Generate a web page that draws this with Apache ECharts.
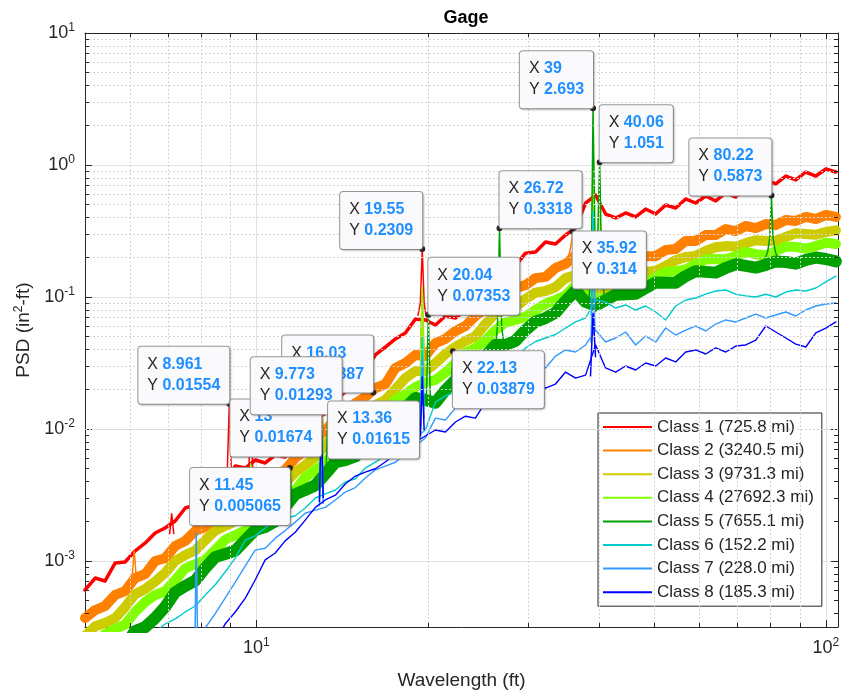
<!DOCTYPE html>
<html><head><meta charset="utf-8">
<script src="https://cdn.jsdelivr.net/npm/echarts@6/dist/echarts.min.js"></script>
<style>html,body{margin:0;padding:0;background:#fff}#c{width:843px;height:694px}</style>
</head><body><div id="c"></div>
<script>
// ---------- DATA ----------
const wavelengths = [5.00,5.21,5.42,5.65,5.88,6.12,6.38,6.64,6.91,7.20,
 7.50,7.81,8.13,8.46,8.81,9.18,9.56,9.95,10.36,10.79,
 11.23,11.70,12.18,12.69,13.21,13.76,14.32,14.92,15.53,16.17,
 16.84,17.54,18.26,19.02,19.80,20.62,21.47,22.36,23.28,24.24,
 25.24,26.29,27.37,28.50,29.68,30.91,32.18,33.51,34.90,36.34,
 37.84,39.40,41.03,42.73,44.49,46.33,48.24,50.24,52.31,54.47,
 56.72,59.06,61.50,64.05,66.69,69.45,72.31,75.30,78.41,81.65,
 85.02,88.54,92.19,96.00,99.97,104.1];

const class1 = [6.03e-4,7.43e-4,7.05e-4,9.66e-4,9.83e-4,1.19e-3,1.37e-3,1.63e-3,1.78e-3,2.01e-3,
 2.52e-3,2.66e-3,3.16e-3,3.22e-3,4.04e-3,5.24e-3,5.06e-3,5.82e-3,5.53e-3,6.35e-3,
 6.14e-3,7.83e-3,9.17e-3,1.17e-2,1.32e-2,1.66e-2,1.91e-2,2.48e-2,2.80e-2,3.64e-2,
 4.18e-2,4.81e-2,5.34e-2,6.81e-2,6.70e-2,6.14e-2,7.18e-2,6.93e-2,7.97e-2,8.55e-2,
 0.102,0.119,0.160,0.172,0.215,0.219,0.261,0.252,0.295,0.333,
 0.515,0.592,0.425,0.397,0.433,0.404,0.464,0.425,0.498,0.472,
 0.553,0.515,0.582,0.534,0.614,0.572,0.681,0.670,0.770,0.718,
 0.825,0.770,0.885,0.825,0.933,0.885];
const class2 = [3.70e-4,4.25e-4,4.56e-4,5.53e-4,5.92e-4,7.43e-4,7.97e-4,1.0e-3,1.05e-3,1.30e-3,
 1.42e-3,1.69e-3,1.81e-3,2.15e-3,2.31e-3,2.75e-3,2.95e-3,3.45e-3,3.70e-3,4.48e-3,
 4.89e-3,6.03e-3,6.81e-3,8.55e-3,9.66e-3,1.21e-2,1.32e-2,1.57e-2,1.75e-2,2.04e-2,
 2.19e-2,2.90e-2,3.16e-2,3.64e-2,3.57e-2,4.48e-2,4.81e-2,5.53e-2,6.03e-2,7.18e-2,
 8.11e-2,9.83e-2,0.102,0.117,0.123,0.139,0.142,0.166,0.178,0.208,
 0.152,0.137,0.149,0.155,0.178,0.181,0.204,0.204,0.227,0.231,
 0.266,0.266,0.295,0.295,0.327,0.316,0.345,0.333,0.357,0.351,
 0.383,0.377,0.404,0.390,0.418,0.404];
const class3 = [2.70e-4,3.2e-4,3.39e-4,3.7e-4,4.48e-4,5.6e-4,6.14e-4,7.0e-4,8.11e-4,1.0e-3,
 1.11e-3,1.2e-3,1.44e-3,1.7e-3,1.84e-3,2.0e-3,2.35e-3,2.7e-3,2.95e-3,3.3e-3,
 3.90e-3,4.7e-3,5.34e-3,6.1e-3,7.56e-3,9.2e-3,1.02e-2,1.1e-2,1.32e-2,1.52e-2,
 1.66e-2,2.0e-2,2.43e-2,2.75e-2,2.75e-2,3.15e-2,3.70e-2,4.2e-2,4.64e-2,5.05e-2,
 6.24e-2,7.55e-2,7.97e-2,8.4e-2,9.66e-2,0.108,0.111,0.119,0.139,0.147,
 0.123,0.113,0.117,0.121,0.137,0.152,0.155,0.158,0.172,0.190,
 0.201,0.205,0.223,0.238,0.243,0.241,0.256,0.269,0.266,0.267,
 0.285,0.304,0.300,0.296,0.311,0.320];
const class4 = [2.0e-4,2.35e-4,2.8e-4,3.05e-4,3.3e-4,4.11e-4,4.9e-4,5.53e-4,5.9e-4,7.18e-4,
 8.8e-4,9.49e-4,1.02e-3,1.21e-3,1.45e-3,1.57e-3,1.7e-3,1.97e-3,2.33e-3,2.56e-3,
 2.8e-3,3.45e-3,4.3e-3,4.89e-3,5.55e-3,6.93e-3,8.3e-3,9.01e-3,1.0e-2,1.17e-2,
 1.38e-2,1.66e-2,1.83e-2,2.08e-2,2.25e-2,2.35e-2,2.68e-2,3.16e-2,3.8e-2,4.11e-2,
 4.7e-2,5.62e-2,6.4e-2,6.70e-2,7.1e-2,7.97e-2,8.9e-2,9.49e-2,0.103,0.123,
 0.109,9.83e-2,0.096,0.107,0.122,0.125,0.129,0.142,0.155,0.157,
 0.162,0.178,0.192,0.194,0.193,0.204,0.220,0.211,0.206,0.223,
 0.241,0.239,0.233,0.243,0.258,0.252];
const class5 = [1.30e-4,1.6e-4,1.69e-4,1.85e-4,2.27e-4,2.95e-4,3.16e-4,3.7e-4,4.48e-4,5.8e-4,
 6.47e-4,7.1e-4,8.85e-4,1.07e-3,1.13e-3,1.2e-3,1.44e-3,1.72e-3,1.81e-3,2.0e-3,
 2.56e-3,3.2e-3,3.45e-3,3.75e-3,4.56e-3,5.6e-3,5.82e-3,6.2e-3,7.70e-3,9.1e-3,
 9.66e-3,1.14e-2,1.44e-2,1.72e-2,1.66e-2,1.58e-2,1.97e-2,2.35e-2,2.66e-2,2.85e-2,
 3.57e-2,4.35e-2,4.33e-2,4.65e-2,5.62e-2,6.5e-2,6.93e-2,7.6e-2,9.33e-2,0.112,
 9.17e-2,8.6e-2,9.49e-2,0.104,0.105,0.106,0.117,0.129,0.128,0.128,
 0.144,0.157,0.155,0.153,0.166,0.177,0.172,0.167,0.175,0.186,
 0.184,0.179,0.191,0.199,0.194,0.186];
const class6 = [8.11e-5,9.66e-5,1.09e-4,1.25e-4,1.55e-4,1.84e-4,2.31e-4,2.90e-4,3.33e-4,3.64e-4,
 4.11e-4,4.56e-4,5.53e-4,6.58e-4,8.25e-4,1.05e-3,1.44e-3,1.55e-3,1.78e-3,2.0e-3,
 2.11e-3,2.2e-3,2.52e-3,3.0e-3,3.22e-3,3.45e-3,3.97e-3,4.2e-3,5.06e-3,5.62e-3,
 6.24e-3,6.6e-3,7.70e-3,8.55e-3,9.83e-3,1.60e-2,1.78e-2,1.9e-2,2.19e-2,2.55e-2,
 2.61e-2,2.75e-2,3.11e-2,3.4e-2,4.11e-2,4.6e-2,4.89e-2,5.2e-2,5.82e-2,6.47e-2,
 6.93e-2,9.49e-2,9.17e-2,8.25e-2,8.70e-2,7.97e-2,8.55e-2,7.70e-2,6.70e-2,8.55e-2,
 9.49e-2,9.83e-2,0.105,0.111,0.113,0.105,0.102,0.100,0.105,0.100,
 0.109,0.113,0.111,0.117,0.130,0.144];
const class7 = [4.40e-5,4.81e-5,5.43e-5,6.03e-5,6.81e-5,7.70e-5,8.85e-5,1.02e-4,1.21e-4,1.55e-4,
 1.94e-4,2.52e-4,3.11e-4,3.97e-4,5.24e-4,6.93e-4,9.17e-4,1.21e-3,1.25e-3,1.49e-3,
 1.7e-3,1.97e-3,2.3e-3,2.43e-3,2.55e-3,2.90e-3,3.33e-3,3.6e-3,4.25e-3,4.9e-3,
 5.24e-3,5.6e-3,6.47e-3,7.43e-3,8.55e-3,1.21e-2,1.17e-2,1.44e-2,1.60e-2,1.8e-2,
 1.91e-2,2.2e-2,2.05e-2,2.61e-2,3.00e-2,3.22e-2,2.90e-2,3.57e-2,3.97e-2,3.83e-2,
 4.33e-2,5.62e-2,4.56e-2,4.89e-2,5.43e-2,4.33e-2,5.06e-2,4.56e-2,5.82e-2,5.15e-2,
 5.62e-2,6.03e-2,5.53e-2,6.24e-2,6.70e-2,6.47e-2,6.93e-2,7.43e-2,6.93e-2,7.30e-2,
 7.70e-2,7.18e-2,7.97e-2,8.55e-2,8.85e-2,9.01e-2];
const class8 = [2.61e-5,2.85e-5,3.22e-5,3.57e-5,4.04e-5,4.56e-5,5.24e-5,6.03e-5,7.18e-5,8.85e-5,
 1.09e-4,1.37e-4,1.78e-4,2.43e-4,3.33e-4,4.11e-4,5.24e-4,7.18e-4,1.02e-3,1.15e-3,
 1.42e-3,1.65e-3,2.04e-3,2.55e-3,2.90e-3,3.15e-3,3.83e-3,4.4e-3,4.72e-3,5.0e-3,
 5.62e-3,6.5e-3,7.18e-3,7.97e-3,8.85e-3,9.83e-3,9.49e-3,1.13e-2,1.25e-2,1.21e-2,
 1.60e-2,1.78e-2,1.84e-2,1.97e-2,2.11e-2,2.35e-2,2.04e-2,2.19e-2,2.70e-2,2.43e-2,
 2.56e-2,4.33e-2,2.90e-2,2.70e-2,3.00e-2,2.80e-2,3.16e-2,3.00e-2,3.45e-2,3.22e-2,
 3.83e-2,3.97e-2,3.70e-2,4.11e-2,3.83e-2,4.25e-2,4.33e-2,4.72e-2,6.03e-2,5.43e-2,
 4.89e-2,4.40e-2,4.18e-2,5.34e-2,5.82e-2,6.47e-2];

// narrow spectral peaks: [wavelength, psd] points for each spike
const class1Peaks = [
 [[7.04,1.6e-3],[7.10,2.3e-3],[7.16,1.6e-3]],
 [[8.89,5.0e-3],[8.961,0.01554],[9.03,5.1e-3]],
 [[9.70,5.0e-3],[9.773,0.01293],[9.85,5.1e-3]],
 [[19.2,0.072],[19.40,0.09],[19.55,0.2309],[19.70,0.09],[19.9,0.068]]];
const class2Peaks = [
 [[6.05,7.6e-4],[6.10,1.2e-3],[6.15,7.7e-4]],
 [[7.74,1.7e-3],[7.80,2.8e-3],[7.86,1.75e-3]],
 [[12.9,9.5e-3],[13.0,0.01674],[13.1,9.8e-3]],
 [[19.4,0.036],[19.55,0.11],[19.7,0.036]],
 [[35.3,0.2],[35.65,0.24],[35.92,0.314],[36.2,0.24],[36.6,0.19]],
 [[38.7,0.16],[39.0,0.4],[39.3,0.15]]];
const class3Peaks = [
 [[12.9,7.6e-3],[13.0,0.012],[13.1,7.8e-3]],
 [[19.4,0.028],[19.55,0.09],[19.7,0.028]],
 [[38.7,0.13],[39.0,0.6],[39.3,0.12]]];
const class4Peaks = [
 [[9.70,1.7e-3],[9.77,5.5e-3],[9.85,1.75e-3]],
 [[12.9,5.7e-3],[13.0,0.014],[13.1,5.9e-3]],
 [[19.4,0.021],[19.55,0.12],[19.7,0.022]],
 [[38.7,0.12],[39.0,1.2],[39.3,0.2],[39.75,0.2],[40.06,0.7],[40.4,0.11]]];
const class5Peaks = [
 [[11.36,2.8e-3],[11.45,0.005065],[11.54,2.9e-3]],
 [[13.25,4.6e-3],[13.36,0.01615],[13.47,4.8e-3]],
 [[19.88,0.017],[20.04,0.07353],[20.2,0.017]],
 [[21.95,0.021],[22.13,0.03879],[22.3,0.021]],
 [[26.3,0.042],[26.5,0.06],[26.72,0.3318],[26.95,0.06],[27.2,0.043]],
 [[38.4,0.1],[38.75,0.2],[39.0,2.693],[39.3,0.3],[39.75,0.3],[40.06,1.051],[40.35,0.2],[40.8,0.1]],
 [[77.5,0.175],[79.0,0.22],[79.7,0.28],[80.22,0.5873],[80.75,0.28],[81.5,0.22],[83.0,0.18]]];
const class6Peaks = [
 [[12.9,3.0e-3],[13.0,0.01],[13.1,3.2e-3]],
 [[19.4,9.5e-3],[19.55,0.05],[19.7,0.014]],
 [[38.7,0.072],[39.0,0.45],[39.3,0.09]]];
const class7Peaks = [
 [[7.80,2.4e-4],[7.84,1.66e-3],[7.88,2.7e-4]],
 [[12.9,2.6e-3],[13.0,9.0e-3],[13.1,2.7e-3]],
 [[19.4,8.5e-3],[19.55,0.035],[19.7,0.012]],
 [[38.7,0.045],[39.0,0.3],[39.3,0.055]]];
const class8Peaks = [
 [[12.9,2.8e-3],[13.0,0.0123],[13.1,3.0e-3]],
 [[19.4,8.8e-3],[19.55,0.025],[19.7,9.8e-3]],
 [[38.6,0.025],[39.0,0.076],[39.4,0.035]]];

const classNames = ['Class 1 (725.8 mi)','Class 2 (3240.5 mi)','Class 3 (9731.3 mi)','Class 4 (27692.3 mi)',
 'Class 5 (7655.1 mi)','Class 6 (152.2 mi)','Class 7 (228.0 mi)','Class 8 (185.3 mi)'];

// data tips
const tipX = [8.961, 13, 16.03, 9.773, 13.36, 11.45, 19.55, 20.04, 22.13, 26.72, 35.92, 39, 40.06, 80.22];
const tipY = [0.01554, 0.01674, 0.01887, 0.01293, 0.01615, 0.005065, 0.2309, 0.07353, 0.03879, 0.3318, 0.314, 2.693, 1.051, 0.5873];

// axis tick values
const minorXTicks = [6,7,8,9,20,30,40,50,60,70,80,90];

// ---------- STYLE ----------
const FONT = 'Liberation Sans, Arial, Helvetica, sans-serif';
const colors = ['#ff0000','#ff8000','#cccc00','#80ff00','#00a000','#00cccc','#3399ff','#0000ff'];
const bandWidths = [3.5, 10, 10, 10, 12, 1.4, 1.4, 1.4];
const tipPlace = ['tl','bl','tl','tr','br','bl','tl','tr','br','tr','br','tl','tr','tl'];
const X_MIN = 5, X_MAX = 105, Y_MIN = Math.pow(10, -3.5), Y_MAX = 10;

const bands = [class1,class2,class3,class4,class5,class6,class7,class8];
const peaks = [class1Peaks,class2Peaks,class3Peaks,class4Peaks,class5Peaks,class6Peaks,class7Peaks,class8Peaks];

const minorY = [];
for (let d = -4; d <= 0; d++) for (let m = 2; m <= 9; m++) {
  const v = m * Math.pow(10, d);
  if (v > Y_MIN && v < Y_MAX) minorY.push(v);
}

function logLabel(v) {
  const e = Math.round(Math.log10(v));
  return '{b|10}{s|' + e + '}';
}
const labelRich = { b: {fontSize: 18, color: '#262626', fontFamily: FONT}, s: {fontSize: 12, color: '#262626', fontFamily: FONT, padding: [0,0,10,0]} };

const series = [];
// minor grid lines
series.push({
  type: 'line', data: [], silent: true, z: 0, animation: false,
  markLine: {
    silent: true, symbol: ['none','none'], animation: false, label: {show: false},
    lineStyle: {color: '#d4d4d4', width: 1, type: [2,2]},
    data: minorXTicks.map(v => ({xAxis: v})).concat(minorY.map(v => ({yAxis: v})))
  }
});

for (let i = 0; i < 8; i++) {
  series.push({
    name: classNames[i], type: 'line', symbol: 'none', showSymbol: false, silent: true, animation: false,
    data: wavelengths.map((w, j) => [w, bands[i][j]]),
    lineStyle: {color: colors[i], width: bandWidths[i], join: 'round', cap: 'round'},
    itemStyle: {color: colors[i]}, z: 2
  });
  const pd = [];
  peaks[i].forEach((g, k) => { if (k) pd.push(['-','-']); g.forEach(p => pd.push(p)); });
  series.push({
    name: classNames[i], type: 'line', symbol: 'none', showSymbol: false, silent: true, animation: false,
    data: pd, connectNulls: false,
    lineStyle: {color: colors[i], width: 1.5},
    itemStyle: {color: colors[i]}, z: 2
  });
}

// minor ticks (inside, all four sides)
const fx = Math.pow(10, 4/569), fy = Math.pow(10, 4/132);
const tickSegs = [];
minorXTicks.forEach(v => {
  tickSegs.push([{coord: [v, Y_MIN]}, {coord: [v, Y_MIN * fy]}]);
  tickSegs.push([{coord: [v, Y_MAX]}, {coord: [v, Y_MAX / fy]}]);
});
minorY.forEach(v => {
  tickSegs.push([{coord: [X_MIN, v]}, {coord: [X_MIN * fx, v]}]);
  tickSegs.push([{coord: [X_MAX, v]}, {coord: [X_MAX / fx, v]}]);
});
series.push({
  type: 'line', data: [], silent: true, z: 3, animation: false,
  markLine: {silent: true, symbol: ['none','none'], animation: false, label: {show: false},
    lineStyle: {color: '#262626', width: 1, type: 'solid'}, data: tickSegs}
});

function placement(p) {
  return {
    position: [3, 3],
    align: p[1] === 'l' ? 'right' : 'left',
    verticalAlign: p[0] === 't' ? 'bottom' : 'top'
  };
}
series.push({
  type: 'scatter', z: 10, silent: true, animation: false,
  symbol: 'circle', symbolSize: 6,
  itemStyle: {color: '#262626', opacity: 1},
  data: tipX.map((x, i) => ({value: [x, tipY[i]], label: placement(tipPlace[i])})),
  label: {
    show: true, opacity: 1, fontSize: 16, fontFamily: FONT, color: '#262626',
    formatter: p => '{k|X }{v|' + p.value[0] + '}\n{k|Y }{v|' + p.value[1] + '}',
    rich: {
      k: {fontSize: 16, color: '#262626', fontFamily: FONT, lineHeight: 21, align: 'left'},
      v: {fontSize: 16, color: '#1f8fff', fontWeight: 'bold', fontFamily: FONT, lineHeight: 21, align: 'left'}
    },
    lineHeight: 21,
    backgroundColor: '#fafafd', borderColor: '#9a9a9a', borderWidth: 1, borderRadius: 3,
    padding: [7, 9, 8, 9],
    shadowColor: 'rgba(0,0,0,0.18)', shadowBlur: 2, shadowOffsetX: 1, shadowOffsetY: 1
  }
});

const baseAxis = {
  type: 'log', logBase: 10,
  axisLine: {show: true, onZero: false, lineStyle: {color: '#262626', width: 1}},
  axisTick: {show: true, inside: true, length: 7, lineStyle: {color: '#262626'}},
};

const option = {
  animation: false,
  backgroundColor: '#ffffff',
  textStyle: {fontFamily: FONT},
  title: {text: 'Gage', left: 461, top: 4, textAlign: 'center',
    textStyle: {fontSize: 18, fontWeight: 'bold', color: '#000', fontFamily: FONT}},
  grid: {left: 85, top: 33, right: 5, bottom: 67, containLabel: false, outerBoundsMode: 'none'},
  legend: {
    data: classNames, orient: 'vertical', left: 598, top: 413,
    backgroundColor: '#ffffff', borderColor: '#262626', borderWidth: 1, borderRadius: 0,
    padding: [5, 8, 5, 5], itemWidth: 49, itemHeight: 2, itemGap: 5.6, icon: 'rect',
    textStyle: {fontSize: 17, color: '#262626', fontFamily: FONT, lineHeight: 18},
    selectedMode: false
  },
  xAxis: [
    Object.assign({}, baseAxis, {
      min: X_MIN, max: X_MAX, position: 'bottom',
      axisLabel: {showMinLabel: false, showMaxLabel: false, formatter: logLabel, rich: labelRich, margin: 10, color: '#262626'},
      splitLine: {show: true, lineStyle: {color: '#e2e2e2', width: 1}},
      name: 'Wavelength (ft)', nameLocation: 'middle', nameGap: 44,
      nameTextStyle: {fontSize: 19, color: '#262626', fontFamily: FONT}
    }),
    Object.assign({}, baseAxis, {
      min: X_MIN, max: X_MAX, position: 'top',
      axisLabel: {show: false}, splitLine: {show: false}
    })
  ],
  yAxis: [
    Object.assign({}, baseAxis, {
      min: Y_MIN, max: Y_MAX, position: 'left',
      axisLabel: {showMinLabel: false, showMaxLabel: true, formatter: logLabel, rich: labelRich, margin: 10, color: '#262626'},
      splitLine: {show: true, lineStyle: {color: '#e2e2e2', width: 1}},
      name: 'PSD (in{s|2}-ft)', nameLocation: 'middle', nameGap: 48, nameRotate: 90,
      nameTextStyle: {fontSize: 19, color: '#262626', fontFamily: FONT,
        rich: {s: {fontSize: 12, color: '#262626', fontFamily: FONT, padding: [0,0,10,0]}}}
    }),
    Object.assign({}, baseAxis, {
      min: Y_MIN, max: Y_MAX, position: 'right',
      axisLabel: {show: false}, splitLine: {show: false}
    })
  ],
  series: series
};

const chart = echarts.init(document.getElementById('c'), null, {renderer: 'canvas'});
chart.setOption(option);
</script>
</body></html>
